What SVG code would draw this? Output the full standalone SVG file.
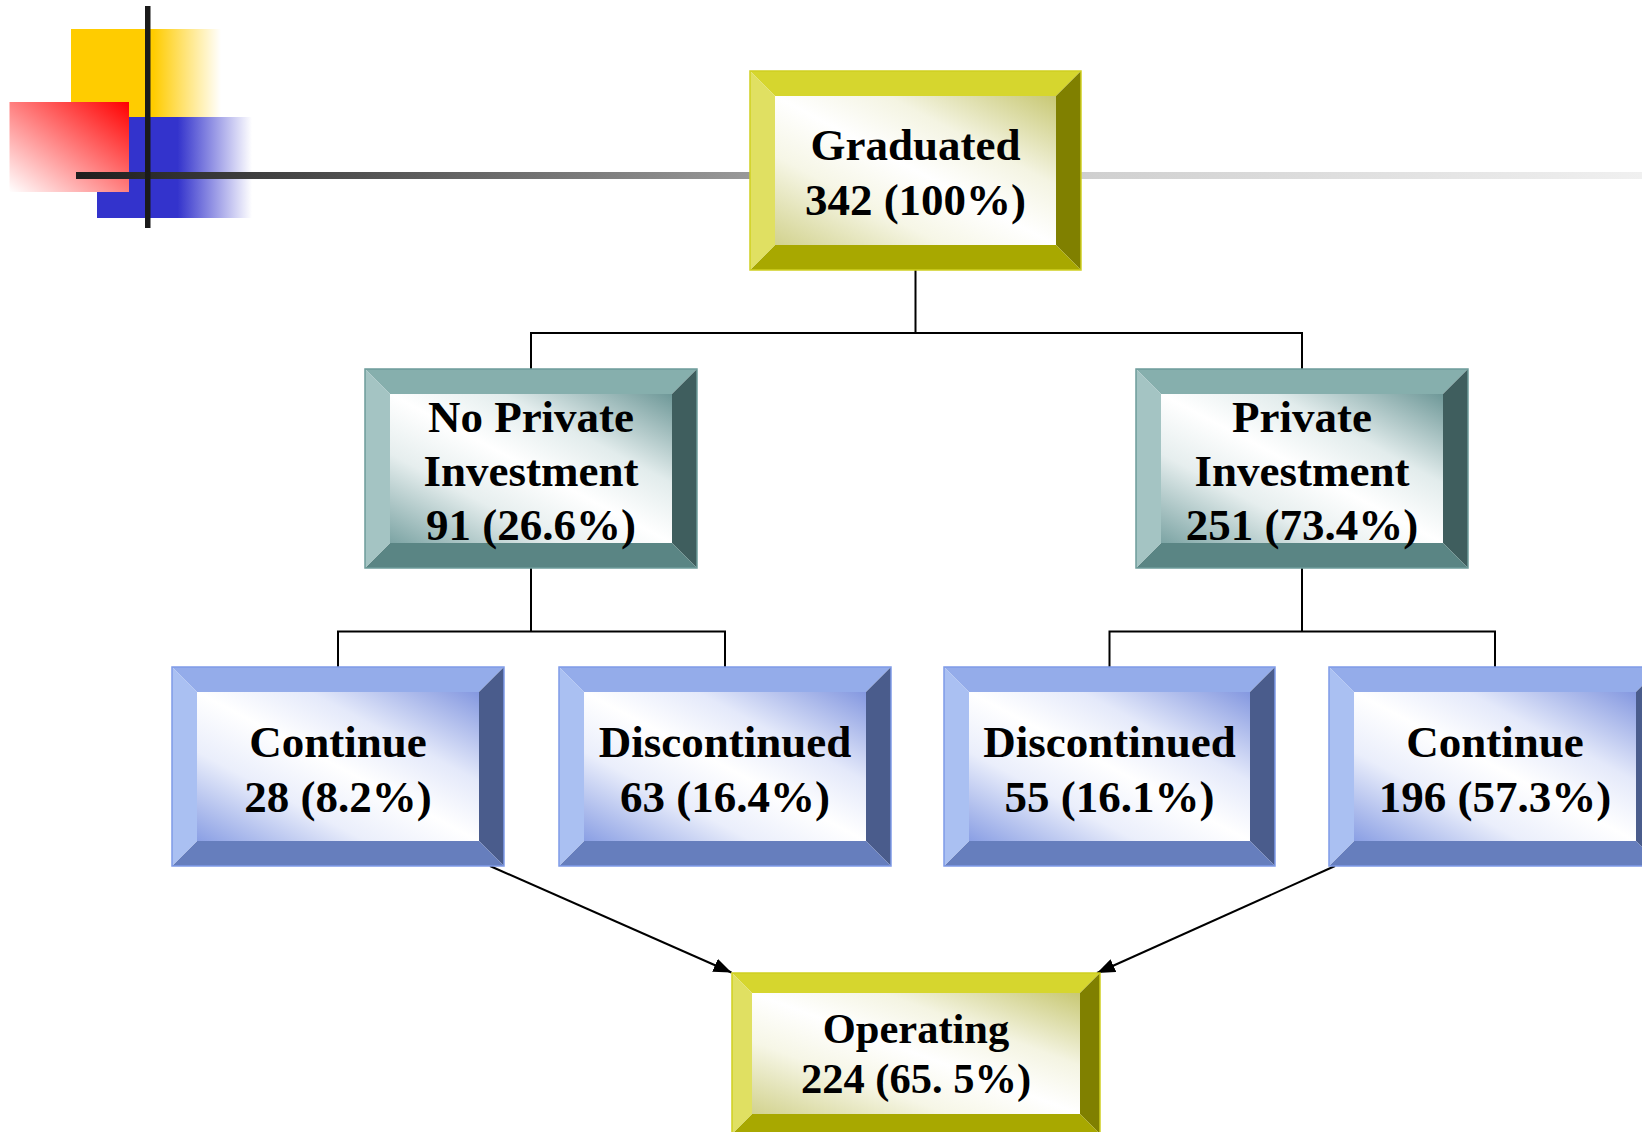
<svg xmlns="http://www.w3.org/2000/svg" width="1642" height="1132" viewBox="0 0 1642 1132">
<style>
text{font-family:"Liberation Serif","Times New Roman",serif;font-weight:bold;fill:#000;text-anchor:middle}
.t45{font-size:45px}
.t42{font-size:42.5px}
.conn{fill:none;stroke:#000;stroke-width:2}
.yellow .bt{fill:#D6D62E}.yellow .bl{fill:#E0E062}.yellow .br{fill:#808000}.yellow .bb{fill:#A8A800}.yellow .face{fill:url(#gY)}.yellow .edge{fill:none;stroke:#CFCF20;stroke-width:1.5}
.teal .bt{fill:#86AFAD}.teal .bl{fill:#A4C4C3}.teal .br{fill:#3F5E5E}.teal .bb{fill:#5A8584}.teal .face{fill:url(#gT)}.teal .edge{fill:none;stroke:#6E9C9B;stroke-width:1.5}
.blue .bt{fill:#94ACEA}.blue .bl{fill:#AAC0F2}.blue .br{fill:#4A5C8C}.blue .bb{fill:#667EBD}.blue .face{fill:url(#gB)}.blue .edge{fill:none;stroke:#7F9BE8;stroke-width:1.5}
</style>
<defs>
<linearGradient id="gY" x1="1" y1="0" x2="0" y2="1">
<stop offset="0" stop-color="#C8C874"/><stop offset="0.3" stop-color="#F4F4E2"/><stop offset="0.5" stop-color="#FFFFFF"/><stop offset="0.7" stop-color="#F6F6E6"/><stop offset="1" stop-color="#D2D28E"/>
</linearGradient>
<linearGradient id="gT" x1="1" y1="0" x2="0" y2="1">
<stop offset="0" stop-color="#6E9898"/><stop offset="0.3" stop-color="#E2ECEC"/><stop offset="0.5" stop-color="#FFFFFF"/><stop offset="0.7" stop-color="#E6EEEE"/><stop offset="1" stop-color="#7CA4A4"/>
</linearGradient>
<linearGradient id="gB" x1="1" y1="0" x2="0" y2="1">
<stop offset="0" stop-color="#8498E0"/><stop offset="0.3" stop-color="#E4E9FA"/><stop offset="0.5" stop-color="#FFFFFF"/><stop offset="0.7" stop-color="#EAEEFB"/><stop offset="1" stop-color="#8A9FE4"/>
</linearGradient>
<linearGradient id="decoY" x1="0" y1="0" x2="1" y2="0">
<stop offset="0" stop-color="#FFCC00"/><stop offset="0.55" stop-color="#FFCC00"/><stop offset="1" stop-color="#FFCC00" stop-opacity="0"/>
</linearGradient>
<linearGradient id="decoB" x1="0" y1="0" x2="1" y2="0">
<stop offset="0" stop-color="#3333CC"/><stop offset="0.52" stop-color="#3333CC"/><stop offset="1" stop-color="#3333CC" stop-opacity="0"/>
</linearGradient>
<linearGradient id="decoR" x1="1" y1="0" x2="0" y2="1">
<stop offset="0" stop-color="#FF0000"/><stop offset="1" stop-color="#FFFFFF"/>
</linearGradient>
<linearGradient id="decoLine" gradientUnits="userSpaceOnUse" x1="76" y1="0" x2="1642" y2="0">
<stop offset="0" stop-color="#1E1E1E"/><stop offset="0.43" stop-color="#999999"/><stop offset="0.65" stop-color="#D0D0D0"/><stop offset="1" stop-color="#F0F0F0"/>
</linearGradient>
<marker id="arrow" markerUnits="userSpaceOnUse" markerWidth="18" markerHeight="14" refX="18" refY="7" orient="auto">
<path d="M0,0L18,7L0,14Z" fill="#000"/>
</marker>
</defs>
<rect width="1642" height="1132" fill="#FFFFFF"/>
<g id="decoration">
<rect x="71" y="29" width="150" height="88" fill="url(#decoY)"/>
<rect x="97" y="117" width="155" height="101" fill="url(#decoB)"/>
<rect x="9.5" y="102" width="119.5" height="90" fill="url(#decoR)"/>
<rect x="76" y="172" width="1566" height="7" fill="url(#decoLine)"/>
<rect x="145" y="6" width="5.5" height="222" fill="#1A1A1A"/>
</g>
<g id="connectors">
<path class="conn" d="M915.5,270V333M531,369V333H1302V369"/>
<path class="conn" d="M531,568V631.5M338,667V631.5H725V667"/>
<path class="conn" d="M1302,568V631.5M1109.5,667V631.5H1495V667"/>
<line class="conn" x1="490" y1="866" x2="731.5" y2="972.5" marker-end="url(#arrow)"/>
<line class="conn" x1="1335" y1="866" x2="1097" y2="973" marker-end="url(#arrow)"/>
</g>
<g id="graduated" class="yellow" transform="translate(750,71)">
<path class="bt" d="M0,0H331L306,25H25Z"/><path class="br" d="M331,0V199L306,174V25Z"/><path class="bb" d="M0,199H331L306,174H25Z"/><path class="bl" d="M0,0L25,25V174L0,199Z"/>
<rect class="face" x="25" y="25" width="281" height="149"/><rect class="edge" x="0" y="0" width="331" height="199"/>
<text class="t45" x="165.5" y="89">Graduated</text><text class="t45" x="165.5" y="144">342 (100%)</text>
</g>
<g id="no-private" class="teal" transform="translate(365,369)">
<path class="bt" d="M0,0H332L307,25H25Z"/><path class="br" d="M332,0V199L307,174V25Z"/><path class="bb" d="M0,199H332L307,174H25Z"/><path class="bl" d="M0,0L25,25V174L0,199Z"/>
<rect class="face" x="25" y="25" width="282" height="149"/><rect class="edge" x="0" y="0" width="332" height="199"/>
<text class="t45" x="166" y="63">No Private</text><text class="t45" x="166" y="117">Investment</text><text class="t45" x="166" y="171">91 (26.6%)</text>
</g>
<g id="private" class="teal" transform="translate(1136,369)">
<path class="bt" d="M0,0H332L307,25H25Z"/><path class="br" d="M332,0V199L307,174V25Z"/><path class="bb" d="M0,199H332L307,174H25Z"/><path class="bl" d="M0,0L25,25V174L0,199Z"/>
<rect class="face" x="25" y="25" width="282" height="149"/><rect class="edge" x="0" y="0" width="332" height="199"/>
<text class="t45" x="166" y="63">Private</text><text class="t45" x="166" y="117">Investment</text><text class="t45" x="166" y="171">251 (73.4%)</text>
</g>
<g id="continue-1" class="blue" transform="translate(172,667)">
<path class="bt" d="M0,0H332L307,25H25Z"/><path class="br" d="M332,0V199L307,174V25Z"/><path class="bb" d="M0,199H332L307,174H25Z"/><path class="bl" d="M0,0L25,25V174L0,199Z"/>
<rect class="face" x="25" y="25" width="282" height="149"/><rect class="edge" x="0" y="0" width="332" height="199"/>
<text class="t45" x="166" y="90">Continue</text><text class="t45" x="166" y="145">28 (8.2%)</text>
</g>
<g id="discontinued-1" class="blue" transform="translate(559,667)">
<path class="bt" d="M0,0H332L307,25H25Z"/><path class="br" d="M332,0V199L307,174V25Z"/><path class="bb" d="M0,199H332L307,174H25Z"/><path class="bl" d="M0,0L25,25V174L0,199Z"/>
<rect class="face" x="25" y="25" width="282" height="149"/><rect class="edge" x="0" y="0" width="332" height="199"/>
<text class="t45" x="166" y="90">Discontinued</text><text class="t45" x="166" y="145">63 (16.4%)</text>
</g>
<g id="discontinued-2" class="blue" transform="translate(944,667)">
<path class="bt" d="M0,0H331L306,25H25Z"/><path class="br" d="M331,0V199L306,174V25Z"/><path class="bb" d="M0,199H331L306,174H25Z"/><path class="bl" d="M0,0L25,25V174L0,199Z"/>
<rect class="face" x="25" y="25" width="281" height="149"/><rect class="edge" x="0" y="0" width="331" height="199"/>
<text class="t45" x="165.5" y="90">Discontinued</text><text class="t45" x="165.5" y="145">55 (16.1%)</text>
</g>
<g id="continue-2" class="blue" transform="translate(1329,667)">
<path class="bt" d="M0,0H332L307,25H25Z"/><path class="br" d="M332,0V199L307,174V25Z"/><path class="bb" d="M0,199H332L307,174H25Z"/><path class="bl" d="M0,0L25,25V174L0,199Z"/>
<rect class="face" x="25" y="25" width="282" height="149"/><rect class="edge" x="0" y="0" width="332" height="199"/>
<text class="t45" x="166" y="90">Continue</text><text class="t45" x="166" y="145">196 (57.3%)</text>
</g>
<g id="operating" class="yellow" transform="translate(732,973)">
<path class="bt" d="M0,0H368L348,20H20Z"/><path class="br" d="M368,0V161L348,141V20Z"/><path class="bb" d="M0,161H368L348,141H20Z"/><path class="bl" d="M0,0L20,20V141L0,161Z"/>
<rect class="face" x="20" y="20" width="328" height="121"/><rect class="edge" x="0" y="0" width="368" height="161"/>
<text class="t42" x="184" y="70">Operating</text><text class="t42" x="184" y="120">224 (65. 5%)</text>
</g>
</svg>
